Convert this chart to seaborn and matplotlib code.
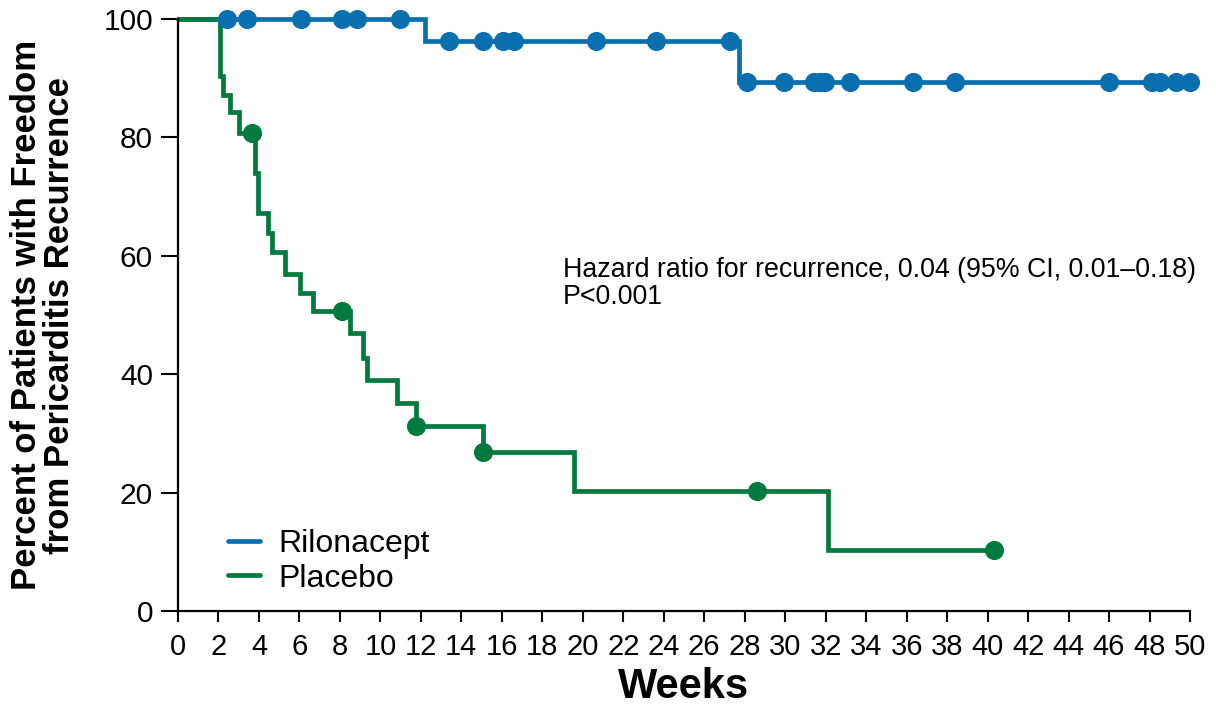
import numpy as np
import pandas as pd
import matplotlib
matplotlib.use("Agg")
import matplotlib.pyplot as plt
import seaborn as sns

# Kaplan-Meier steps (weeks, percent)
placebo_times = [0, 2.07, 2.24, 2.57, 3.03, 3.8, 3.97, 4.46, 4.63, 5.29, 6.03, 6.65,
                 8.5, 9.12, 9.32, 10.8, 11.76, 15.08, 19.58, 32.1]
placebo_surv = [100, 90.3, 87.2, 84.3, 80.7, 74.0, 67.2, 63.8, 60.7, 57.0, 53.8, 50.6,
                46.9, 42.7, 39.0, 35.2, 31.3, 26.8, 20.3, 10.3]
placebo_end = 40.3
placebo_censored = [3.64, 8.12, 11.76, 15.08, 28.6, 40.3]

rilo_times = [0, 12.2, 27.7]
rilo_surv = [100, 96.3, 89.4]
rilo_end = 50.0
rilo_censored = [2.4, 3.42, 6.1, 8.09, 8.86, 10.97, 13.39, 15.08, 16.04, 16.6, 20.65,
                 23.6, 27.27, 28.1, 29.94, 31.4, 31.7, 31.96, 33.2, 36.3, 38.4, 46.0,
                 48.1, 48.5, 49.3, 50.0]

groups = ["Rilonacept", "Placebo"]
colors = {"Rilonacept": "#0a6fae", "Placebo": "#007a3e"}

x_ticks = list(range(0, 51, 2))
y_ticks = [0, 20, 40, 60, 80, 100]
hr_text = "Hazard ratio for recurrence, 0.04 (95% CI, 0.01\u20130.18)\nP<0.001"


def step_frame(name, times, surv, end):
    t = list(times) + [end]
    s = list(surv) + [surv[-1]]
    return pd.DataFrame({"week": t, "pct": s, "group": name})


def censor_frame(name, times, surv, censored):
    idx = np.searchsorted(times, censored, side="right") - 1
    return pd.DataFrame({"week": censored, "pct": np.array(surv)[idx], "group": name})


curves = pd.concat([step_frame("Rilonacept", rilo_times, rilo_surv, rilo_end),
                    step_frame("Placebo", placebo_times, placebo_surv, placebo_end)])
marks = pd.concat([censor_frame("Rilonacept", rilo_times, rilo_surv, rilo_censored),
                   censor_frame("Placebo", placebo_times, placebo_surv, placebo_censored)])

sns.set_style("ticks")
plt.rcParams["font.family"] = ["Liberation Sans", "DejaVu Sans"]
plt.rcParams["text.color"] = "black"
plt.rcParams["axes.labelcolor"] = "black"

fig = plt.figure(figsize=(12.16, 7.05), dpi=100)
ax = fig.add_axes([178 / 1216, 1 - 611 / 705, 1012 / 1216, 592 / 705])

for g in groups:
    sub = curves[curves["group"] == g]
    sns.lineplot(data=sub, x="week", y="pct", ax=ax, color=colors[g], lw=3.4,
                 drawstyle="steps-post", estimator=None, sort=False, label=g,
                 clip_on=False, solid_joinstyle="miter")
    m = marks[marks["group"] == g]
    sns.scatterplot(data=m, x="week", y="pct", ax=ax, color=colors[g], s=190,
                    linewidth=0, clip_on=False, zorder=4, legend=False)

ax.set_xlim(0, 50)
ax.set_ylim(0, 100)
ax.set_xticks(x_ticks)
ax.set_yticks(y_ticks)
ax.set_xticklabels([str(v) for v in x_ticks], family=["Liberation Sans Narrow", "Liberation Sans"],
                   fontsize=21)
ax.set_yticklabels([str(v) for v in y_ticks], fontsize=21.5)
ax.tick_params(axis="x", length=8, width=1.5, pad=8, colors="black")
ax.tick_params(axis="y", length=12, width=1.5, pad=6, colors="black")
for side in ["top", "right"]:
    ax.spines[side].set_visible(False)
for side in ["left", "bottom"]:
    ax.spines[side].set_linewidth(1.6)
    ax.spines[side].set_color("black")

ax.set_xlabel("Weeks", fontsize=30, fontweight="bold", labelpad=4)
ax.set_ylabel("Percent of Patients with Freedom\nfrom Pericarditis Recurrence",
              fontsize=25, fontweight="bold", linespacing=0.98, labelpad=20)

ax.text(19.0, 59.8, hr_text, fontsize=19.3, ha="left", va="top", linespacing=1.05)

leg = ax.legend(loc="center left", bbox_to_anchor=(0.049, 0.084), frameon=False,
                fontsize=23, handlelength=1.0, handletextpad=0.6, labelspacing=0.15,
                borderpad=0, borderaxespad=0)

fig.savefig("out.png", dpi=100)
